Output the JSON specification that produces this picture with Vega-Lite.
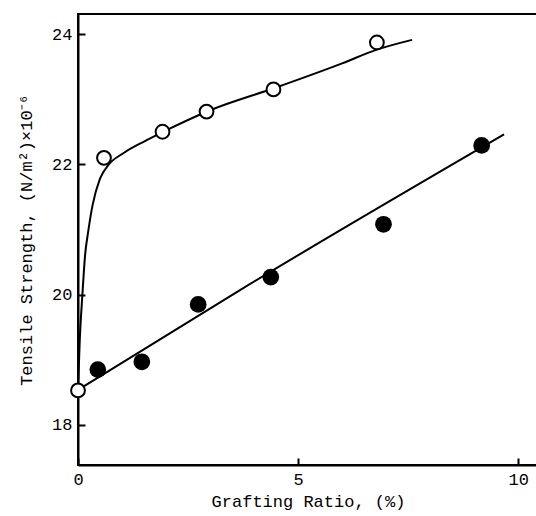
{
  "$schema": "https://vega.github.io/schema/vega-lite/v6.json",
  "autosize": {"type": "none"},
  "padding": {"left": 78, "top": 14, "right": 0, "bottom": 51},
  "width": 460,
  "height": 451,
  "background": "white",
  "config": {
    "view": {"stroke": "black", "strokeWidth": 2},
    "font": "Liberation Mono",
    "axis": {
      "grid": false,
      "domainColor": "black",
      "domainWidth": 2,
      "tickColor": "black",
      "tickWidth": 2,
      "tickSize": -7,
      "labelPadding": 13,
      "labelFlush": false,
      "labelFont": "Liberation Mono",
      "labelFontSize": 17,
      "labelColor": "black",
      "titleFont": "Liberation Mono",
      "titleFontSize": 17,
      "titleFontWeight": "normal",
      "titleColor": "black"
    }
  },
  "datasets": {
    "points": [
      {"ratio": 0.0, "strength": 18.53, "series": "open"},
      {"ratio": 0.59, "strength": 22.1, "series": "open"},
      {"ratio": 1.92, "strength": 22.5, "series": "open"},
      {"ratio": 2.92, "strength": 22.81, "series": "open"},
      {"ratio": 4.44, "strength": 23.15, "series": "open"},
      {"ratio": 6.79, "strength": 23.87, "series": "open"},
      {"ratio": 0.45, "strength": 18.85, "series": "filled"},
      {"ratio": 1.45, "strength": 18.97, "series": "filled"},
      {"ratio": 2.73, "strength": 19.85, "series": "filled"},
      {"ratio": 4.38, "strength": 20.27, "series": "filled"},
      {"ratio": 6.94, "strength": 21.08, "series": "filled"},
      {"ratio": 9.17, "strength": 22.29, "series": "filled"}
    ],
    "curves": [
      {"ratio": 0.0, "strength": 18.53, "series": "open"},
      {"ratio": 0.04, "strength": 19.3, "series": "open"},
      {"ratio": 0.1, "strength": 20.0, "series": "open"},
      {"ratio": 0.16, "strength": 20.6, "series": "open"},
      {"ratio": 0.23, "strength": 20.96, "series": "open"},
      {"ratio": 0.33, "strength": 21.37, "series": "open"},
      {"ratio": 0.5, "strength": 21.78, "series": "open"},
      {"ratio": 0.69, "strength": 21.99, "series": "open"},
      {"ratio": 1.03, "strength": 22.17, "series": "open"},
      {"ratio": 1.5, "strength": 22.35, "series": "open"},
      {"ratio": 2.0, "strength": 22.52, "series": "open"},
      {"ratio": 3.0, "strength": 22.83, "series": "open"},
      {"ratio": 4.5, "strength": 23.18, "series": "open"},
      {"ratio": 6.0, "strength": 23.55, "series": "open"},
      {"ratio": 6.79, "strength": 23.76, "series": "open"},
      {"ratio": 7.59, "strength": 23.91, "series": "open"},
      {"ratio": 0.1, "strength": 18.58, "series": "filled"},
      {"ratio": 3.68, "strength": 20.07, "series": "filled"},
      {"ratio": 9.68, "strength": 22.46, "series": "filled"}
    ]
  },
  "encoding": {
    "x": {
      "field": "ratio", "type": "quantitative",
      "scale": {"domain": [0, 10.45], "nice": false, "zero": false},
      "axis": {"values": [0, 5, 10], "title": "Grafting Ratio, (%)", "titlePadding": 6}
    },
    "y": {
      "field": "strength", "type": "quantitative",
      "scale": {"domain": [17.386, 24.307], "nice": false, "zero": false},
      "axis": {"values": [18, 20, 22, 24], "title": "Tensile Strength, (N/m²)×10⁻⁶", "titlePadding": 16}
    }
  },
  "layer": [
    {
      "data": {"name": "curves"},
      "mark": {"type": "line", "color": "black", "strokeWidth": 2, "interpolate": "monotone"},
      "encoding": {"detail": {"field": "series", "type": "nominal"}}
    },
    {
      "data": {"name": "points"},
      "transform": [{"filter": "datum.series === 'filled'"}],
      "mark": {"type": "point", "shape": "circle", "filled": true, "color": "black", "opacity": 1, "size": 280}
    },
    {
      "data": {"name": "points"},
      "transform": [{"filter": "datum.series === 'open'"}],
      "mark": {"type": "point", "shape": "circle", "filled": false, "fill": "white", "fillOpacity": 1, "stroke": "black", "strokeWidth": 2, "opacity": 1, "size": 190}
    }
  ]
}
